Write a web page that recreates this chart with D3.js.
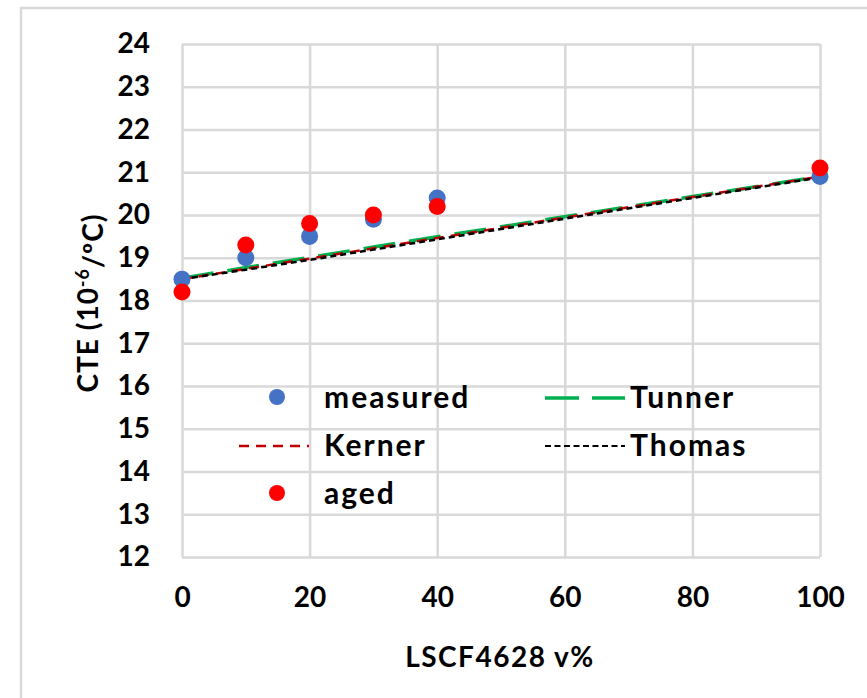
<!DOCTYPE html>
<html>
<head>
<meta charset="utf-8">
<script src="https://cdn.jsdelivr.net/npm/d3@7"></script>
<style>
  body { margin: 0; background: #fff; }
  svg text { font-family: Lato, "Open Sans", sans-serif; font-weight: bold; fill: #000; }
</style>
</head>
<body>
<div id="chart"></div>
<script>
// data
const fractions = [0, 10, 20, 30, 40, 100];
const measured = [18.5, 19.0, 19.5, 19.9, 20.4, 20.9];
const aged = [18.2, 19.3, 19.8, 20.0, 20.2, 21.1];
const tunner = [18.52, 18.77, 19.01, 19.25, 19.49, 20.9];
const kerner = [18.5, 18.74, 18.98, 19.22, 19.46, 20.9];
const thomas = [18.5, 18.72, 18.95, 19.19, 19.43, 20.88];
const xTicks = [0, 20, 40, 60, 80, 100];
const yTicks = [12, 13, 14, 15, 16, 17, 18, 19, 20, 21, 22, 23, 24];

const W = 867, H = 698;
const margin = {top: 44, right: 47, bottom: 141, left: 182},
  width = W - margin.left - margin.right,
  height = H - margin.top - margin.bottom;

const svg = d3.select("#chart").append("svg")
  .attr("width", W).attr("height", H);

// outer frame
svg.append("rect")
  .attr("x", 21).attr("y", 8).attr("width", W + 10).attr("height", H + 10)
  .attr("fill", "none").attr("stroke", "#d9d9d9").attr("stroke-width", 2.5);

const g = svg.append("g")
  .attr("transform", "translate(" + margin.left + "," + margin.top + ")");

const x = d3.scaleLinear().domain([0, 100]).range([0, width]);
const y = d3.scaleLinear().domain([12, 24]).range([height, 0]);

// grid
g.append("g")
  .call(d3.axisLeft(y).tickValues(yTicks).tickSize(-width).tickFormat(""))
  .call(a => a.select(".domain").remove())
  .selectAll("line").attr("stroke", "#d9d9d9").attr("stroke-width", 2.5);
g.append("g")
  .call(d3.axisBottom(x).tickValues(xTicks).tickSize(height).tickFormat(""))
  .call(a => a.select(".domain").remove())
  .selectAll("line").attr("stroke", "#d9d9d9").attr("stroke-width", 2.5);

// tick labels
g.append("g")
  .attr("transform", "translate(0," + height + ")")
  .call(d3.axisBottom(x).tickValues(xTicks).tickSize(0).tickPadding(30))
  .call(a => a.select(".domain").remove())
  .selectAll("text").style("font-size", "28px");
g.append("g")
  .call(d3.axisLeft(y).tickValues(yTicks).tickSize(0).tickPadding(32))
  .call(a => a.select(".domain").remove())
  .selectAll("text").style("font-size", "28px");

// model lines
const line = vals => d3.line()
  .x((d, i) => x(fractions[i]))
  .y(d => y(d))(vals);

const models = [
  {name: "Tunner", vals: tunner, color: "#00b050", dash: "32,14", w: 3.5},
  {name: "Kerner", vals: kerner, color: "#c00000", dash: "10,7", w: 2.5},
  {name: "Thomas", vals: thomas, color: "#000", dash: "6,4", w: 2.5}
];
models.forEach(m => {
  g.append("path")
    .attr("d", line(m.vals))
    .attr("fill", "none")
    .attr("stroke", m.color)
    .attr("stroke-width", m.w)
    .attr("stroke-dasharray", m.dash);
});

// points
g.selectAll(".measured").data(measured).join("circle")
  .attr("cx", (d, i) => x(fractions[i]))
  .attr("cy", d => y(d))
  .attr("r", 8.5).attr("fill", "#4472c4");
g.selectAll(".aged").data(aged).join("circle")
  .attr("cx", (d, i) => x(fractions[i]))
  .attr("cy", d => y(d))
  .attr("r", 8.5).attr("fill", "#ff0000");

// legend
const leg = svg.append("g");
const legText = (tx, ty, s) => leg.append("text").attr("x", tx).attr("y", ty)
  .attr("dy", "0.35em").style("font-size", "30px").style("letter-spacing", "2px").text(s);

leg.append("circle").attr("cx", 277).attr("cy", 397).attr("r", 8).attr("fill", "#4472c4");
legText(324, 397, "measured");
leg.append("circle").attr("cx", 277).attr("cy", 493).attr("r", 8).attr("fill", "#ff0000");
legText(324, 493, "aged");
[[545, 579], [592, 625]].forEach(p => {
  leg.append("line").attr("x1", p[0]).attr("x2", p[1]).attr("y1", 398).attr("y2", 398)
    .attr("stroke", "#00b050").attr("stroke-width", 3.5);
});
legText(630, 397, "Tunner");
leg.append("line").attr("x1", 239).attr("x2", 309).attr("y1", 446).attr("y2", 446)
  .attr("stroke", "#c00000").attr("stroke-width", 2.5).attr("stroke-dasharray", "10,7");
legText(324, 445, "Kerner");
leg.append("line").attr("x1", 545).attr("x2", 625).attr("y1", 446).attr("y2", 446)
  .attr("stroke", "#000").attr("stroke-width", 2).attr("stroke-dasharray", "6,3.5");
legText(630, 445, "Thomas");

// axis titles
svg.append("text")
  .attr("x", 500).attr("y", 657).attr("dy", "0.35em")
  .attr("text-anchor", "middle").style("font-size", "28px").style("letter-spacing", "1.5px")
  .text("LSCF4628 v%");

const yt = svg.append("text")
  .attr("transform", "translate(88,303) rotate(-90)")
  .attr("text-anchor", "middle").attr("dy", "0.35em")
  .style("font-size", "28px").style("letter-spacing", "1px");
yt.append("tspan").text("CTE (10");
yt.append("tspan").attr("dy", "-0.5em").style("font-size", "18px").text("-6");
yt.append("tspan").attr("dy", "0.5em").text("/ºC)");
</script>
</body>
</html>
